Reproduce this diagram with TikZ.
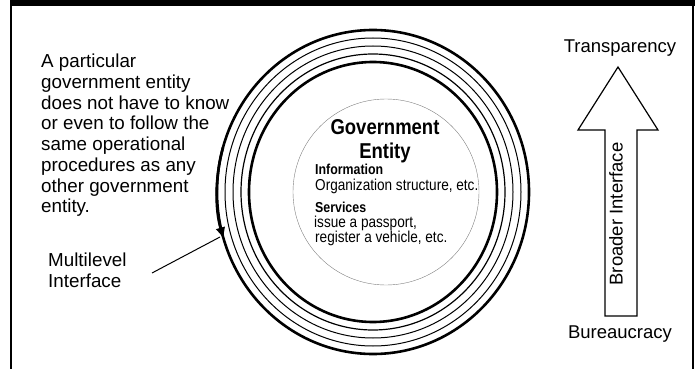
\documentclass[tikz,border=0pt]{standalone}
\usepackage{fontspec}
\setmainfont{Liberation Sans}
\newfontfamily\narrowfont{Liberation Sans}[FakeStretch=0.86]
\usetikzlibrary{arrows.meta}

\begin{document}
\begin{tikzpicture}[x=1pt, y=-1pt, >=Latex,
    note/.style = {inner sep=0pt, align=left, anchor=north west, font=\fontsize{18.8}{20.7}\selectfont},
    label/.style = {inner sep=0pt, anchor=base, font=\fontsize{18.5}{20}\selectfont},
    title/.style = {inner sep=0pt, anchor=base, font=\narrowfont\bfseries\fontsize{21.5}{23}\selectfont},
    head/.style = {inner sep=0pt, anchor=base west, font=\narrowfont\bfseries\fontsize{14.4}{15}\selectfont},
    info/.style = {inner sep=0pt, anchor=base west, font=\narrowfont\fontsize{15.8}{15}\selectfont},
    ring/.style = {draw, line width=#1}]
    \useasboundingbox (0,0) rectangle (697,369);

    % Frame
    \fill (10,0) rectangle (695,6);
    \draw[line width=2pt] (11,6) -- (11,369);
    \draw[line width=1.4pt] (693,6) -- (693,369);

    % Rings
    \coordinate (ge) at (373,192);
    \foreach \rx/\ry/\w in {156/162/2.6, 148/154/1, 140/146/1, 132/138/1.2, 124/130/2.6}
        \draw[ring=\w pt] (ge) ellipse[x radius=\rx, y radius=\ry];
    \draw[line width=2.6pt, -{Latex[length=12pt, width=10pt]}]
        (ge) ++(196:156 and 162) arc[start angle=196, end angle=163, x radius=156, y radius=162];
    \draw[line width=0.4pt, gray] (386,192) circle[radius=93];

    % Nodes
    \node[note] (text) at (41,54) {A particular\\government entity\\does not have to know\\or even to follow the\\same operational\\procedures as any\\other government\\entity.};
    \node[note] (ml) at (48,253) {Multilevel\\Interface};
    \coordinate (mlfrom) at (152,273);
    \coordinate (mlto) at (220,237);

    \node[title] (gov) at (385,135) {Government};
    \node[title] (ent) at (385,158) {Entity};
    \node[head] (inf) at (315,175) {Information};
    \node[info] (org) at (315,190) {Organization structure, etc.};
    \node[head] (srv) at (315,212) {Services};
    \node[info] (iss) at (314,227) {issue a passport,};
    \node[info] (reg) at (315,242) {register a vehicle, etc.};

    \node[label] (tr) at (620,53) {Transparency};
    \node[label] (bu) at (620,338) {Bureaucracy};
    \node[label, anchor=center, rotate=90] (bi) at (616,214) {Broader Interface};

    % Edges
    \draw[line width=1pt] (mlfrom) -- (mlto);
    \draw[line width=1.2pt] (618,67) -- (658,130) -- (637,130) -- (637,316)
        -- (605,316) -- (605,130) -- (578,130) -- cycle;

\end{tikzpicture}
\end{document}
